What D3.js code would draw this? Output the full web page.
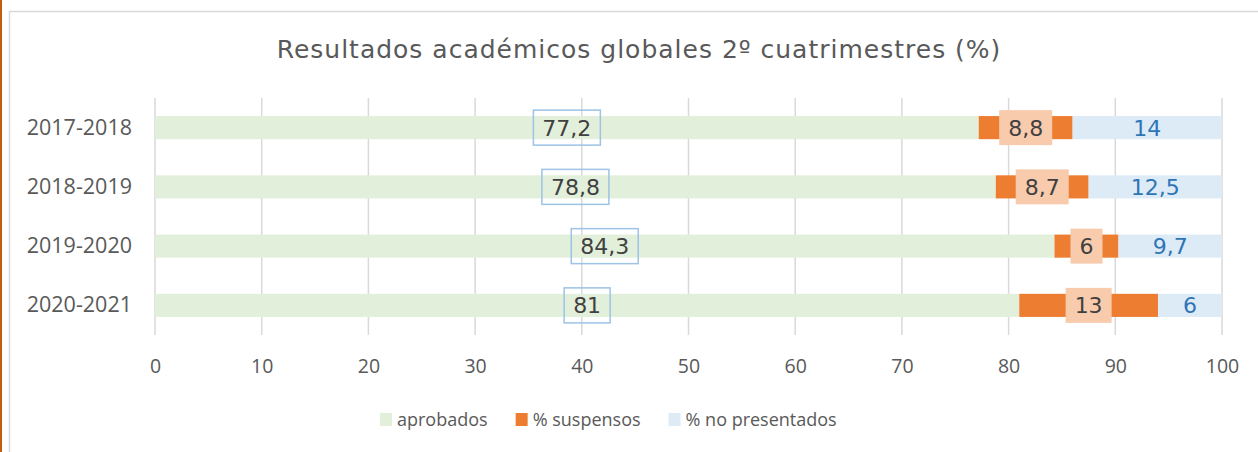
<!DOCTYPE html>
<html>
<head>
<meta charset="utf-8">
<script src="https://cdn.jsdelivr.net/npm/d3@7"></script>
<style>
  body { margin: 0; background: #fff; }
  text { font-family: "Open Sans", "Noto Sans", sans-serif; }
</style>
</head>
<body>
<div id="chart"></div>
<script>
// chart data
var years = ["2017-2018", "2018-2019", "2019-2020", "2020-2021"];
var aprobados = [77.2, 78.8, 84.3, 81];
var suspensos = [8.8, 8.7, 6, 13];
var noPresentados = [14, 12.5, 9.7, 6];
var seriesNames = ["aprobados", "% suspensos", "% no presentados"];
var xTicks = [0, 10, 20, 30, 40, 50, 60, 70, 80, 90, 100];

var W = 1258, H = 452;
var colors = ["#E2EFDA", "#ED7D31", "#DDEBF7"];
var fmt = function(v) { return String(v).replace(".", ","); };

var svg = d3.select("#chart").append("svg")
	.attr("width", W)
	.attr("height", H);

// frame
svg.append("rect")
	.attr("x", 9.5).attr("y", 11.5)
	.attr("width", W).attr("height", H)
	.attr("fill", "#fff")
	.attr("stroke", "#D9D9D9")
	.attr("stroke-width", 1.5);
svg.append("rect")
	.attr("x", 0).attr("y", 0)
	.attr("width", 2).attr("height", H)
	.attr("fill", "#C55A11");

var x = d3.scaleLinear().domain([0, 100]).range([155, 1222]);
var y = d3.scaleBand().domain(years).range([98, 335])
	.paddingInner(0.61).paddingOuter(0.305);

svg.append("text")
	.attr("x", 639).attr("y", 58)
	.attr("text-anchor", "middle")
	.attr("fill", "#595959")
	.style("font-family", "'DejaVu Sans', Verdana, sans-serif")
	.style("font-size", "25px")
	.style("letter-spacing", "1px")
	.text("Resultados académicos globales 2º cuatrimestres (%)");

// gridlines
svg.append("g").selectAll("line")
	.data(xTicks)
	.join("line")
	.attr("x1", d => x(d)).attr("x2", d => x(d))
	.attr("y1", 98).attr("y2", 335)
	.attr("stroke", "#D9D9D9")
	.attr("stroke-width", 1.5);

// x tick labels
var xAxis = d3.axisBottom(x).tickValues(xTicks).tickSize(0).tickPadding(0);
var gx = svg.append("g")
	.attr("transform", "translate(0,359)")
	.call(xAxis);
gx.select(".domain").remove();
gx.selectAll("text")
	.attr("fill", "#595959")
	.attr("dy", "0.71em")
	.style("font-size", "19.5px")
	.style("font-family", "'Open Sans', sans-serif");

// category labels
var yAxis = d3.axisLeft(y).tickSize(0).tickPadding(0);
var gy = svg.append("g")
	.attr("transform", "translate(132,0)")
	.call(yAxis);
gy.select(".domain").remove();
gy.selectAll("text")
	.attr("fill", "#595959")
	.style("font-size", "21.5px")
	.style("font-family", "'Open Sans', sans-serif");

// stacked rows
var rows = years.map(function(yr, i) {
	return { year: yr, vals: [aprobados[i], suspensos[i], noPresentados[i]] };
});
var segs = [];
rows.forEach(function(r) {
	var acc = 0;
	r.vals.forEach(function(v, k) {
		segs.push({ year: r.year, k: k, x0: acc, x1: acc + v, v: v });
		acc += v;
	});
});

svg.append("g").selectAll("rect")
	.data(segs)
	.join("rect")
	.attr("x", d => x(d.x0))
	.attr("y", d => y(d.year))
	.attr("width", d => x(d.x1) - x(d.x0))
	.attr("height", y.bandwidth())
	.attr("fill", d => colors[d.k]);

// data labels
var lab = svg.append("g");
segs.forEach(function(d) {
	var cx = x((d.x0 + d.x1) / 2);
	var cy = y(d.year) + y.bandwidth() / 2;
	var g = lab.append("g");
	var box = g.append("rect");
	var t = g.append("text")
		.attr("x", cx).attr("y", cy)
		.attr("dy", "0.36em")
		.attr("text-anchor", "middle")
		.style("font-family", "'DejaVu Sans', Verdana, sans-serif")
		.style("font-size", "22px")
		.attr("fill", d.k === 2 ? "#2E75B6" : "#404040")
		.text(fmt(d.v));
	var w = t.node().getComputedTextLength();
	if (d.k === 0) {
		box.attr("x", cx - w / 2 - 9).attr("y", cy - 17.5)
			.attr("width", w + 18).attr("height", 35)
			.attr("fill", "none")
			.attr("stroke", "#9DC3E6")
			.attr("stroke-width", 1.5);
	} else if (d.k === 1) {
		box.attr("x", cx - w / 2 - 9).attr("y", cy - 17.5)
			.attr("width", w + 18).attr("height", 35)
			.attr("fill", "#F8CBAD");
	} else {
		box.remove();
	}
});

// legend
var leg = svg.append("g").attr("transform", "translate(380,0)");
var lx = 0;
seriesNames.forEach(function(name, k) {
	leg.append("rect")
		.attr("x", lx).attr("y", 413)
		.attr("width", 12).attr("height", 13)
		.attr("fill", colors[k]);
	var t = leg.append("text")
		.attr("x", lx + 17).attr("y", 426)
		.attr("fill", "#595959")
		.style("font-size", "18px")
		.text(name);
	lx += 17 + t.node().getComputedTextLength() + 28;
});
</script>
</body>
</html>
